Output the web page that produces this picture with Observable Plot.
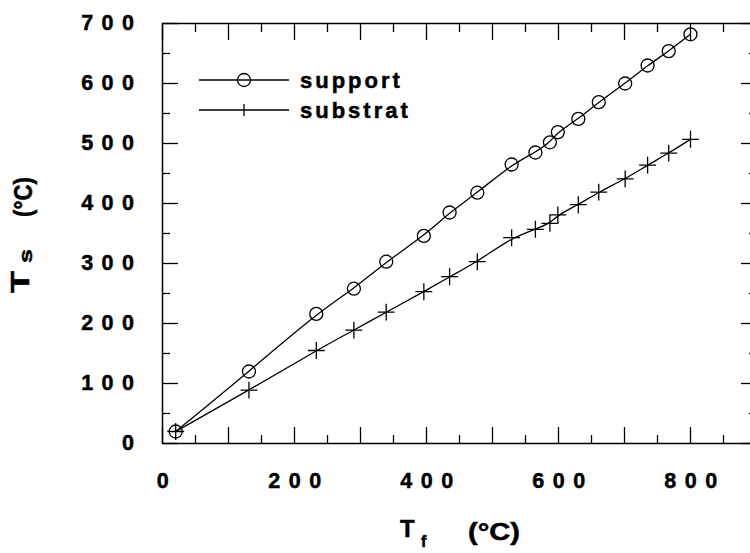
<!DOCTYPE html>
<html>
<head>
<meta charset="utf-8">
<script src="https://cdn.jsdelivr.net/npm/d3@7"></script>
<script src="https://cdn.jsdelivr.net/npm/@observablehq/plot@0.6"></script>
<style>
  html, body { margin: 0; padding: 0; background: #fff; overflow: hidden; width: 750px; height: 553px; }
  #chart { width: 750px; height: 553px; overflow: hidden; }
  #chart svg text { stroke: #000; stroke-width: 0.5px; }
</style>
</head>
<body>
<div id="chart"></div>
<script>
// Furnace temperature T_f (°C)
const Tf = [20, 131, 233, 290, 339, 396, 435, 477, 529, 565, 587, 599, 630, 661, 701, 735, 767, 800];
// Support temperature (°C)
const support = [20, 120, 216, 258, 303, 346, 385, 418, 465, 485, 502, 519, 541, 569, 600, 630, 654, 682];
// Substrate temperature (°C)
const substrat = [20, 89, 155, 189, 219, 253, 278, 303, 343, 357, 367, 381, 398, 419, 441, 464, 484, 507];

const xMajor = [0, 100, 200, 300, 400, 500, 600, 700, 800, 900];
const xMinor = [50, 150, 250, 350, 450, 550, 650, 750, 850];
const xLabels = [0, 200, 400, 600, 800];
const yMajor = [0, 100, 200, 300, 400, 500, 600, 700];
const yMinor = [50, 150, 250, 350, 450, 550, 650];
const yLabels = [0, 100, 200, 300, 400, 500, 600, 700];

const supportData = Tf.map((x, i) => ({x, y: support[i]}));
const substratData = Tf.map((x, i) => ({x, y: substrat[i]}));

const tickOpts = {label: null, tickFormat: () => "", strokeWidth: 1.3};
const plot = Plot.plot({
  width: 770,
  height: 553,
  marginLeft: 162,
  marginRight: 14,
  marginTop: 23,
  marginBottom: 110,
  x: {domain: [0, 900]},
  y: {domain: [0, 700]},
  style: "max-width:none;background:#fff;color:#000;font-family:'Liberation Sans',Arial,Helvetica,sans-serif;font-weight:bold;letter-spacing:8.5px;",
  marks: [
    Plot.axisX(xMajor, {anchor: "bottom", tickSize: -16, ...tickOpts}),
    Plot.axisX(xMinor, {anchor: "bottom", tickSize: -8, ...tickOpts}),
    Plot.axisX(xMajor, {anchor: "top", tickSize: -16, ...tickOpts}),
    Plot.axisX(xMinor, {anchor: "top", tickSize: -8, ...tickOpts}),
    Plot.axisY(yMajor, {anchor: "left", tickSize: -16, ...tickOpts}),
    Plot.axisY(yMinor, {anchor: "left", tickSize: -8, ...tickOpts}),
    Plot.axisY(yMajor, {anchor: "right", tickSize: -16, ...tickOpts}),
    Plot.axisY(yMinor, {anchor: "right", tickSize: -8, ...tickOpts}),
    Plot.axisX(xLabels, {anchor: "bottom", tickSize: 0, tickPadding: 29, label: null, fontSize: 21.5, dx: 4.5}),
    Plot.axisY(yLabels, {anchor: "left", tickSize: 0, tickPadding: 20, label: null, fontSize: 21.5}),
    Plot.frame({stroke: "#000", strokeWidth: 1.5}),
    Plot.line(supportData, {x: "x", y: "y", stroke: "#000", strokeWidth: 1.3, curve: "basis"}),
    Plot.line(substratData, {x: "x", y: "y", stroke: "#000", strokeWidth: 1.3, curve: "basis"}),
    Plot.dot(supportData, {x: "x", y: "y", r: 6.5, stroke: "#000", strokeWidth: 1.3, fill: "none"}),
    Plot.dot(substratData, {x: "x", y: "y", r: 5.5, symbol: "plus", stroke: "#000", strokeWidth: 1.3})
  ]
});
document.getElementById("chart").appendChild(plot);

// Legend and axis titles (plain SVG additions)
const svg = d3.select(plot);
const leg = svg.append("g").attr("fill", "none").attr("stroke", "#000").attr("stroke-width", 1.3);
leg.append("line").attr("x1", 199).attr("x2", 289).attr("y1", 80).attr("y2", 80);
leg.append("circle").attr("cx", 244).attr("cy", 80).attr("r", 6.5);
leg.append("line").attr("x1", 199).attr("x2", 289).attr("y1", 110).attr("y2", 110);
leg.append("line").attr("x1", 244).attr("x2", 244).attr("y1", 104).attr("y2", 116);
const lt = svg.append("g").attr("text-anchor", "start").style("font-size", "22px").style("letter-spacing", "3px");
lt.append("text").attr("x", 300).attr("y", 88).text("support");
lt.append("text").attr("x", 300).attr("y", 118).text("substrat");

// Y title: T_s (°C), rotated
const yt = svg.append("g").attr("text-anchor", "start").style("letter-spacing", "0px");
yt.append("text").attr("transform", "translate(28.5,293) rotate(-90)").style("font-size", "25px")
  .attr("textLength", 22).attr("lengthAdjust", "spacingAndGlyphs").text("T");
yt.append("text").attr("transform", "translate(31.5,263) rotate(-90)").style("font-size", "18.5px")
  .attr("textLength", 14).attr("lengthAdjust", "spacingAndGlyphs").text("s");
yt.append("text").attr("transform", "translate(31.5,217) rotate(-90)").style("font-size", "25px")
  .attr("textLength", 40).attr("lengthAdjust", "spacingAndGlyphs").text("(°C)");

// X title: T_f (°C)
const xt = svg.append("g").attr("text-anchor", "start").style("letter-spacing", "0px");
xt.append("text").attr("x", 400).attr("y", 537).style("font-size", "24px").text("T");
xt.append("text").attr("x", 421).attr("y", 547).style("font-size", "16px").text("f");
xt.append("text").attr("x", 468).attr("y", 540).style("font-size", "24px")
  .attr("textLength", 52).attr("lengthAdjust", "spacingAndGlyphs").text("(°C)");
</script>
</body>
</html>
